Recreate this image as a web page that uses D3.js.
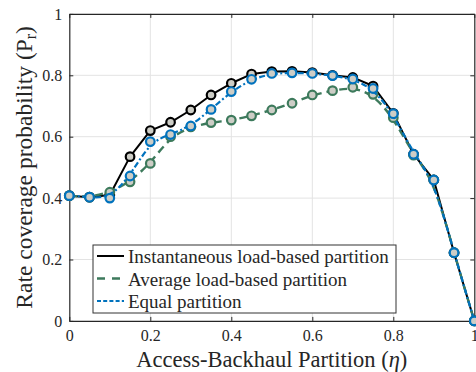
<!DOCTYPE html>
<html>
<head>
<meta charset="utf-8">
<script src="https://cdn.jsdelivr.net/npm/d3@7"></script>
<style>
  html, body { margin: 0; padding: 0; background: #fff; }
  svg { display: block; }
</style>
</head>
<body>
<svg id="chart" width="476" height="372"></svg>
<script>
// Partition ratio eta, sampled every 0.05
const eta = [0, 0.05, 0.1, 0.15, 0.2, 0.25, 0.3, 0.35, 0.4, 0.45, 0.5,
             0.55, 0.6, 0.65, 0.7, 0.75, 0.8, 0.85, 0.9, 0.95, 1];

// Rate coverage probability for each partition scheme
const instantaneous = [0.408, 0.403, 0.41, 0.535, 0.62, 0.647, 0.687, 0.736, 0.774, 0.804, 0.812,
                       0.813, 0.809, 0.800, 0.793, 0.765, 0.676, 0.543, 0.459, 0.222, 0];
const average       = [0.408, 0.403, 0.419, 0.453, 0.513, 0.600, 0.632, 0.646, 0.654, 0.668, 0.687,
                       0.709, 0.736, 0.750, 0.761, 0.738, 0.662, 0.540, 0.459, 0.222, 0];
const equal         = [0.408, 0.403, 0.400, 0.472, 0.584, 0.607, 0.635, 0.689, 0.747, 0.787, 0.806,
                       0.808, 0.806, 0.799, 0.788, 0.757, 0.675, 0.543, 0.459, 0.222, 0];

const xTicks = [0, 0.2, 0.4, 0.6, 0.8, 1];
const yTicks = [0, 0.2, 0.4, 0.6, 0.8, 1];

const seriesNames = ["Instantaneous load-based partition", "Average load-based partition", "Equal partition"];

const FONT = "'Liberation Serif'";

const svg = d3.select("#chart");
const m = { left: 69.3, right: 474.3, top: 13.9, bottom: 320.9 };

const x = d3.scaleLinear().domain([0, 1]).range([m.left, m.right]);
const y = d3.scaleLinear().domain([0, 1]).range([m.bottom, m.top]);

const axisColor = "#262626";
const gridColor = "#e3e3e3";

// grid
const grid = svg.append("g");
grid.selectAll(".gx").data(xTicks.slice(1, -1)).join("line")
  .attr("x1", d => x(d)).attr("x2", d => x(d))
  .attr("y1", m.top).attr("y2", m.bottom)
  .attr("stroke", gridColor).attr("stroke-width", 1);
grid.selectAll(".gy").data(yTicks.slice(1, -1)).join("line")
  .attr("y1", d => y(d)).attr("y2", d => y(d))
  .attr("x1", m.left).attr("x2", m.right)
  .attr("stroke", gridColor).attr("stroke-width", 1);

// axes with inward ticks on all four sides
const fmt = d => d === 0 || d === 1 ? String(d) : d3.format(".1f")(d);
function styleAxis(g) {
  g.attr("font-family", null).attr("font-size", null);
  g.select(".domain").attr("stroke", axisColor).attr("stroke-width", 1.2);
  g.selectAll(".tick line").attr("stroke", axisColor).attr("stroke-width", 1);
  g.selectAll(".tick text").attr("fill", axisColor)
    .style("font-family", FONT).style("font-size", "16px");
}
svg.append("g").attr("transform", `translate(0,${m.bottom})`)
  .call(d3.axisBottom(x).tickValues(xTicks).tickFormat(fmt).tickSizeInner(-4).tickSizeOuter(0).tickPadding(9))
  .call(styleAxis);
svg.append("g").attr("transform", `translate(0,${m.top})`)
  .call(d3.axisTop(x).tickValues(xTicks).tickFormat("").tickSizeInner(-4).tickSizeOuter(0))
  .call(styleAxis);
svg.append("g").attr("transform", `translate(${m.left},0)`)
  .call(d3.axisLeft(y).tickValues(yTicks).tickFormat(fmt).tickSizeInner(-4).tickSizeOuter(0).tickPadding(7))
  .call(styleAxis);
svg.append("g").attr("transform", `translate(${m.right},0)`)
  .call(d3.axisRight(y).tickValues(yTicks).tickFormat("").tickSizeInner(-4).tickSizeOuter(0))
  .call(styleAxis);

// series
const series = [
  { name: seriesNames[0], values: instantaneous, color: "#000000", dash: null, width: 2, curve: d3.curveLinear },
  { name: seriesNames[1], values: average, color: "#3d7a5c", dash: "8,5", width: 2.4, curve: d3.curveBasis },
  { name: seriesNames[2], values: equal, color: "#0072bd", dash: "6,2.5,2,2.5", width: 2.2, curve: d3.curveBasis }
];

series.forEach(s => {
  const pts = eta.map((e, i) => [e, s.values[i]]);
  const line = d3.line().x(d => x(d[0])).y(d => y(d[1])).curve(s.curve);
  svg.append("path").datum(pts)
    .attr("d", line)
    .attr("fill", "none")
    .attr("stroke", s.color)
    .attr("stroke-width", s.width)
    .attr("stroke-dasharray", s.dash)
    .attr("stroke-linejoin", "round");
  svg.append("g").selectAll("circle").data(pts).join("circle")
    .attr("cx", d => x(d[0])).attr("cy", d => y(d[1]))
    .attr("r", 4.3)
    .attr("fill", "#cdcdc6")
    .attr("stroke", s.color)
    .attr("stroke-width", 2.2);
});

// legend
const lg = svg.append("g").attr("transform", "translate(93,245)");
lg.append("rect").attr("width", 303).attr("height", 68)
  .attr("fill", "#fff").attr("stroke", "#333").attr("stroke-width", 1);
series.forEach((s, i) => {
  const cy = 11 + i * 22.5;
  lg.append("line").attr("x1", 4).attr("x2", 31).attr("y1", cy).attr("y2", cy)
    .attr("stroke", s.color).attr("stroke-width", s.width)
    .attr("stroke-dasharray", i === 1 ? "8,7" : (i === 2 ? "4,2.2" : null));
  lg.append("text").attr("x", 35).attr("y", cy + 7)
    .style("font-family", FONT).style("font-size", "19px").attr("fill", axisColor)
    .text(s.name);
});

// axis titles
const xt = svg.append("text")
  .attr("x", (m.left + m.right) / 2).attr("y", 367)
  .attr("text-anchor", "middle")
  .style("font-family", FONT).style("font-size", "22.5px").attr("fill", axisColor);
xt.append("tspan").text("Access-Backhaul Partition (");
xt.append("tspan").style("font-style", "italic").text("η");
xt.append("tspan").text(")");

const yt = svg.append("text")
  .attr("transform", `translate(31.5,${(m.top + m.bottom) / 2}) rotate(-90)`)
  .attr("text-anchor", "middle")
  .style("font-family", FONT).style("font-size", "23.5px").attr("fill", axisColor);
yt.append("tspan").text("Rate coverage probability (P");
yt.append("tspan").style("font-size", "16px").attr("dy", 4).text("r");
yt.append("tspan").attr("dy", -4).text(")");
</script>
</body>
</html>
